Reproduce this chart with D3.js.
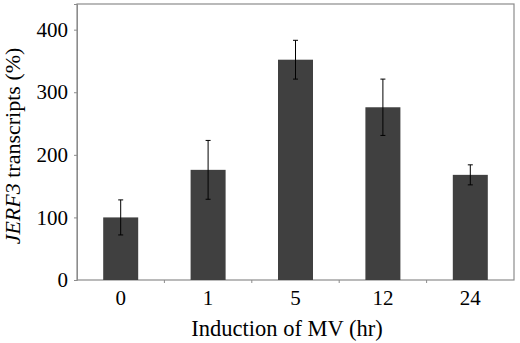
<!DOCTYPE html>
<html>
<head>
<meta charset="utf-8">
<script src="https://cdn.jsdelivr.net/npm/d3@7"></script>
<style>
  body { margin: 0; background: #fff; }
</style>
</head>
<body>
<svg id="chart"></svg>
<script>
const width = 520
const height = 343
const serif = "'Liberation Serif', 'Times New Roman', serif"

// data
const hours = ['0', '1', '5', '12', '24']
const transcripts = [100, 176, 352, 276, 168]
const errors = [28, 47, 31, 45, 16]
const yTicks = [0, 100, 200, 300, 400]

const margin = {top: 4, right: 6, bottom: 63, left: 77}
const plotW = width - margin.left - margin.right
const plotH = height - margin.top - margin.bottom

const data = hours.map((h, i) => ({hour: h, value: transcripts[i], err: errors[i]}))

const svg = d3.select('#chart').attr('width', width).attr('height', height)
const g = svg.append('g').attr('transform', `translate(${margin.left},${margin.top})`)

const xBand = d3.scaleBand().domain(hours).range([0, plotW])
const y = d3.scaleLinear().domain([0, 441]).range([plotH, 0])

// frame
g.append('rect')
  .attr('x', 0).attr('y', 0)
  .attr('width', plotW).attr('height', plotH)
  .attr('fill', 'none')
  .attr('stroke', '#8c8c8c')
  .attr('stroke-width', 1.2)

// y axis
const yAxis = g.append('g')
  .call(d3.axisLeft(y).tickValues(yTicks).tickSize(3).tickPadding(6))
yAxis.select('.domain').attr('stroke', '#8c8c8c')
yAxis.selectAll('.tick line').attr('stroke', '#8c8c8c')
yAxis.selectAll('text')
  .attr('font-size', 21)
  .attr('fill', '#000')
  .style('font-family', serif)

// x axis: ticks between categories, labels under bars
const boundaries = hours.slice(1).map(h => xBand(h))
g.selectAll('.xtick').data(boundaries).enter().append('line')
  .attr('x1', d => d).attr('x2', d => d)
  .attr('y1', plotH).attr('y2', plotH + 3)
  .attr('stroke', '#8c8c8c')
g.selectAll('.xlabel').data(hours).enter().append('text')
  .attr('x', d => xBand(d) + xBand.bandwidth() / 2)
  .attr('y', plotH + 25)
  .attr('text-anchor', 'middle')
  .attr('font-size', 21)
  .style('font-family', serif)
  .text(d => d)

// bars
g.selectAll('.bar').data(data).enter().append('rect')
  .attr('x', d => xBand(d.hour) + (xBand.bandwidth() - 35) / 2)
  .attr('width', 35)
  .attr('y', d => y(d.value))
  .attr('height', d => plotH - y(d.value))
  .attr('fill', '#404040')

// error bars
const eb = g.selectAll('.err').data(data).enter().append('g')
  .attr('transform', d => `translate(${xBand(d.hour) + xBand.bandwidth() / 2},0)`)
eb.append('line')
  .attr('y1', d => y(d.value + d.err)).attr('y2', d => y(d.value - d.err))
  .attr('stroke', '#000').attr('stroke-width', 1)
eb.append('line')
  .attr('x1', -2.5).attr('x2', 2.5)
  .attr('y1', d => y(d.value + d.err)).attr('y2', d => y(d.value + d.err))
  .attr('stroke', '#000')
eb.append('line')
  .attr('x1', -2.5).attr('x2', 2.5)
  .attr('y1', d => y(d.value - d.err)).attr('y2', d => y(d.value - d.err))
  .attr('stroke', '#000')

// axis titles
svg.append('text')
  .attr('x', 287)
  .attr('y', 336)
  .attr('text-anchor', 'middle')
  .attr('font-size', 22.5)
  .style('font-family', serif)
  .text('Induction of MV (hr)')

const yTitle = svg.append('text')
  .attr('transform', `translate(20,${margin.top + plotH / 2 + 4}) rotate(-90)`)
  .attr('text-anchor', 'middle')
  .attr('font-size', 22)
  .style('font-family', serif)
yTitle.append('tspan').attr('font-style', 'italic').text('JERF3')
yTitle.append('tspan').text(' transcripts (%)')
</script>
</body>
</html>
